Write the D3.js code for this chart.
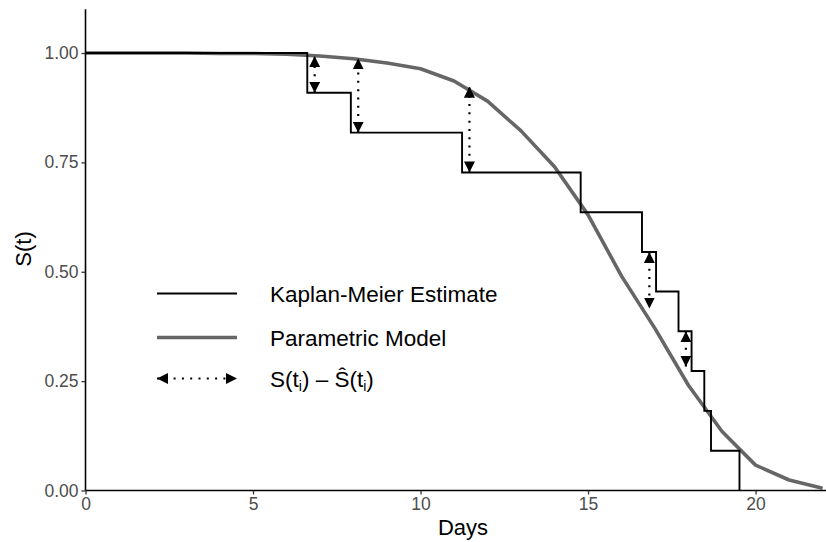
<!DOCTYPE html>
<html>
<head>
<meta charset="utf-8">
<script src="https://cdn.jsdelivr.net/npm/d3@7"></script>
<style>
  html, body { margin: 0; padding: 0; background: #ffffff; }
  svg { display: block; font-family: "Liberation Sans", Arial, Helvetica, sans-serif; }
</style>
</head>
<body>
<div id="chart"></div>
<script>
// ---------------- data ----------------
const kmTimes = [6.62, 7.92, 11.24, 14.78, 16.61, 17.03, 17.70, 18.09, 18.47, 18.67, 19.52];
const kmSurv  = [0.909, 0.818, 0.727, 0.636, 0.545, 0.455, 0.364, 0.273, 0.182, 0.091, 0.000];

const paramDays = [0, 1, 2, 3, 4, 5, 6, 7, 8, 9, 10, 11, 12, 13, 14, 15, 16, 17, 18, 19, 20, 21, 22];
const paramSurv = [1.000, 1.000, 1.000, 1.000, 0.999, 0.999, 0.997, 0.993, 0.987, 0.977, 0.964,
                   0.936, 0.890, 0.822, 0.740, 0.630, 0.490, 0.370, 0.240, 0.135, 0.058, 0.024, 0.005];

// differences shown as arrows: event index and model value at that event time
const arrowEvents = [0, 1, 2, 4, 6];
const arrowModel  = [0.993, 0.988, 0.923, 0.416, 0.283];

const xTicks = [0, 5, 10, 15, 20];
const yTicks = [0, 0.25, 0.5, 0.75, 1.0];
const legendLabels = ["Kaplan-Meier Estimate", "Parametric Model"];

// ---------------- layout ----------------
const W = 826, H = 542;
const svg = d3.select("#chart").append("svg").attr("width", W).attr("height", H);

const x = d3.scaleLinear().domain([0, 22.58]).range([85.5, 842]);
const y = d3.scaleLinear().domain([0, 1.1]).range([490.5, 9.25]);

const defs = svg.append("defs");
defs.append("clipPath").attr("id", "panel")
  .append("rect").attr("x", 85.5).attr("y", 0).attr("width", W - 85.5).attr("height", 490.5);

const m = defs.append("marker").attr("id", "arr")
  .attr("viewBox", "0 0 10 10").attr("refX", 10).attr("refY", 5)
  .attr("markerWidth", 11).attr("markerHeight", 11)
  .attr("markerUnits", "userSpaceOnUse").attr("orient", "auto-start-reverse");
m.append("path").attr("d", "M0,0 L10,5 L0,10 Z").attr("fill", "#000");

const g = svg.append("g").attr("clip-path", "url(#panel)");

// parametric curve
g.append("path")
  .datum(paramDays.map((d, i) => [d, paramSurv[i]]))
  .attr("d", d3.line().x(d => x(d[0])).y(d => y(d[1])))
  .attr("fill", "none").attr("stroke", "#666666").attr("stroke-width", 3.6)
  .attr("stroke-linejoin", "round");

// KM step curve
const kmPts = [[0, 1]].concat(kmTimes.map((t, i) => [t, kmSurv[i]]));
g.append("path")
  .datum(kmPts)
  .attr("d", d3.line().x(d => x(d[0])).y(d => y(d[1])).curve(d3.curveStepAfter))
  .attr("fill", "none").attr("stroke", "#000").attr("stroke-width", 1.9);

// difference arrows
const nudge = 0.22;
arrowEvents.forEach((ei, k) => {
  const xx = x(kmTimes[ei] + nudge);
  g.append("line")
    .attr("x1", xx).attr("x2", xx)
    .attr("y1", y(kmSurv[ei])).attr("y2", y(arrowModel[k]))
    .attr("stroke", "#000").attr("stroke-width", 2.2)
    .attr("stroke-dasharray", "2,6.3")
    .attr("marker-start", "url(#arr)").attr("marker-end", "url(#arr)");
});

// axes
const xAxis = svg.append("g").attr("transform", "translate(0,490.5)")
  .call(d3.axisBottom(x).tickValues(xTicks).tickFormat(d3.format("d")).tickSize(4).tickPadding(3));
const yAxis = svg.append("g").attr("transform", "translate(85.5,0)")
  .call(d3.axisLeft(y).tickValues(yTicks).tickFormat(d3.format(".2f")).tickSize(4).tickPadding(3));
[xAxis, yAxis].forEach(a => {
  a.select(".domain").attr("stroke", "#000").attr("stroke-width", 1.6);
  a.selectAll(".tick line").attr("stroke", "#333").attr("stroke-width", 1.3);
  a.selectAll(".tick text").attr("fill", "#4d4d4d").style("font-size", "17.5px")
    .style("font-family", "'Liberation Sans', Arial, sans-serif");
});
xAxis.select(".domain").attr("d", `M85.5,0H${W + 10}`);
yAxis.select(".domain").attr("d", `M0,${y(1.1)}V490.5`);

// axis titles
svg.append("text").attr("x", 463).attr("y", 535).attr("text-anchor", "middle")
  .style("font-size", "22px").attr("fill", "#000").text("Days");
svg.append("text").attr("transform", "translate(31,249) rotate(-90)").attr("text-anchor", "middle")
  .style("font-size", "22px").attr("fill", "#000").text("S(t)");

// legend
const lx1 = 157, lx2 = 237, ltx = 270;
const ly = [293.5, 337.5, 378.5];
svg.append("line").attr("x1", lx1).attr("x2", lx2).attr("y1", ly[0]).attr("y2", ly[0])
  .attr("stroke", "#000").attr("stroke-width", 1.9);
svg.append("line").attr("x1", lx1).attr("x2", lx2).attr("y1", ly[1]).attr("y2", ly[1])
  .attr("stroke", "#666666").attr("stroke-width", 3.6);
svg.append("line").attr("x1", lx1).attr("x2", lx2).attr("y1", ly[2]).attr("y2", ly[2])
  .attr("stroke", "#000").attr("stroke-width", 2.2).attr("stroke-dasharray", "2,6.3")
  .attr("marker-start", "url(#arr)").attr("marker-end", "url(#arr)");

legendLabels.forEach((t, i) => {
  svg.append("text").attr("x", ltx).attr("y", ly[i] + 8).style("font-size", "22.5px")
    .attr("fill", "#000").text(t);
});
const lt = svg.append("text").attr("x", ltx).attr("y", ly[2] + 8).style("font-size", "22.5px").attr("fill", "#000");
lt.append("tspan").text("S(t");
lt.append("tspan").attr("dy", 4).style("font-size", "14px").text("i");
lt.append("tspan").attr("dy", -4).text(") \u2013 \u015C(t");
lt.append("tspan").attr("dy", 4).style("font-size", "14px").text("i");
lt.append("tspan").attr("dy", -4).text(")");
</script>
</body>
</html>
